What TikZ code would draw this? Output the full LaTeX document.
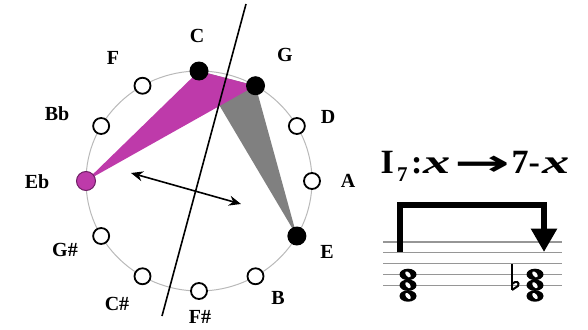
\documentclass[tikz,border=0pt]{standalone}
\usepackage{fontspec}
\setmainfont{Liberation Serif}
\newfontfamily\arrowfont{DejaVu Sans}
\usepackage{graphicx}
\usetikzlibrary{arrows.meta}
\definecolor{mag}{RGB}{190,58,170}
\definecolor{magedge}{RGB}{110,30,100}
\definecolor{ringc}{RGB}{185,185,185}
\definecolor{staffc}{RGB}{150,150,150}
\definecolor{trigray}{RGB}{128,128,128}
\begin{document}
\begin{tikzpicture}[x=1pt,y=-1pt,
  pcopen/.style={circle,draw=black,line width=1.8pt,fill=white,minimum size=16pt,inner sep=0pt},
  pcon/.style={circle,fill=black,minimum size=19pt,inner sep=0pt},
  pcmag/.style={circle,fill=mag,draw=magedge,line width=1pt,minimum size=19pt,inner sep=0pt},
  lab/.style={font=\fontsize{20}{20}\selectfont\bfseries,inner sep=0pt},
  big/.style={font=\fontsize{34}{34}\selectfont\bfseries,inner sep=0pt,anchor=base west},
  small7/.style={font=\fontsize{21}{21}\selectfont\bfseries,inner sep=0pt,anchor=base west},
  staffline/.style={draw=staffc,line width=1.2pt},
  wnote/.pic={\fill[black] (0,0) ellipse [x radius=8.5, y radius=5.7];
              \fill[white,rotate=40] (0,0) ellipse [x radius=2.0, y radius=3.6];}
]
\useasboundingbox (0,0) rectangle (588,329);
% positions on the circle
\foreach \n/\a in {C/90,G/60,D/30,A/0,E/-30,B/-60,Fs/-90,Cs/-120,Gs/-150,Eb/180,Bb/150,F/120}
  \coordinate (p\n) at ({199+113*cos(\a)},{181-110*sin(\a)});
% ring
\draw[ringc,line width=1pt] (199,181) ellipse [x radius=113, y radius=110];
% triangles
\fill[trigray] (pC) -- (pG) -- (pE) -- cycle;
\fill[mag] (pC) -- (pG) -- (pEb) -- cycle;
% axis
\coordinate (ax1) at (246,4);
\coordinate (ax2) at (162,316);
\draw[black,line width=1.6pt] (ax1) -- (ax2);
% pitch-class nodes
\node[pcon] (nC) at (pC) {};
\node[pcon] (nG) at (pG) {};
\node[pcopen] (nD) at (pD) {};
\node[pcopen] (nA) at (pA) {};
\node[pcon] (nE) at (pE) {};
\node[pcopen] (nB) at (pB) {};
\node[pcopen] (nFs) at (pFs) {};
\node[pcopen] (nCs) at (pCs) {};
\node[pcopen] (nGs) at (pGs) {};
\node[pcmag] (nEb) at (pEb) {};
\node[pcopen] (nBb) at (pBb) {};
\node[pcopen] (nF) at (pF) {};
% labels
\node[lab] (lC) at (197,36) {C};
\node[lab] (lG) at (285,55) {G};
\node[lab] (lD) at (328,117) {D};
\node[lab] (lA) at (348,181) {A};
\node[lab] (lE) at (327,252) {E};
\node[lab] (lB) at (278,298) {B};
\node[lab] (lFs) at (200,317) {F\#};
\node[lab] (lCs) at (117,304) {C\#};
\node[lab] (lGs) at (65,250) {G\#};
\node[lab] (lEb) at (37,182) {Eb};
\node[lab] (lBb) at (57,114) {Bb};
\node[lab] (lF) at (113,58) {F};
% double arrow
\coordinate (d1) at (131,173);
\coordinate (d2) at (241,204);
\draw[line width=1.6pt,{Stealth[length=12pt,width=10pt]}-{Stealth[length=12pt,width=10pt]}] (d1) -- (d2);
% formula
\node[big] (fI) at (380.5,173) {I};
\node[small7] (fsub) at (397,181) {7};
\node[big] (fcol) at (411,173) {:};
\node[big] (fx1) at (423,173) {\scalebox{1.6}[1]{\itshape x}};
\node[inner sep=0pt,font=\fontsize{36}{36}\selectfont\arrowfont\bfseries] (farr) at (482,166) {\scalebox{1.85}[1]{→}};
\node[big] (f7) at (511.5,173) {7-};
\node[big] (fx2) at (542,173) {\scalebox{1.6}[1]{\itshape x}};
% staff
\foreach \yy in {242,252.8,263.6,274.4,285.2}
  \draw[staffline] (383,\yy) -- (562,\yy);
% chords
\foreach \yy in {274.4,285.2,296} {
  \pic at (408,\yy) {wnote};
  \pic at (535,\yy) {wnote};
}
% flat
\draw[line width=1.3pt] (512,264) -- (512,290);
\draw[line width=2pt] (512,284) .. controls (516,280) and (520,282) .. (518,286) -- (512,290);
% bracket arrow
\coordinate (b1) at (400,252);
\coordinate (b2) at (544,252);
\draw[line width=6.5pt,line join=miter,-{Triangle[length=23.5pt,width=25pt]}] (b1) -- (400,205) -- (544,205) -- (b2);
\end{tikzpicture}
\end{document}
